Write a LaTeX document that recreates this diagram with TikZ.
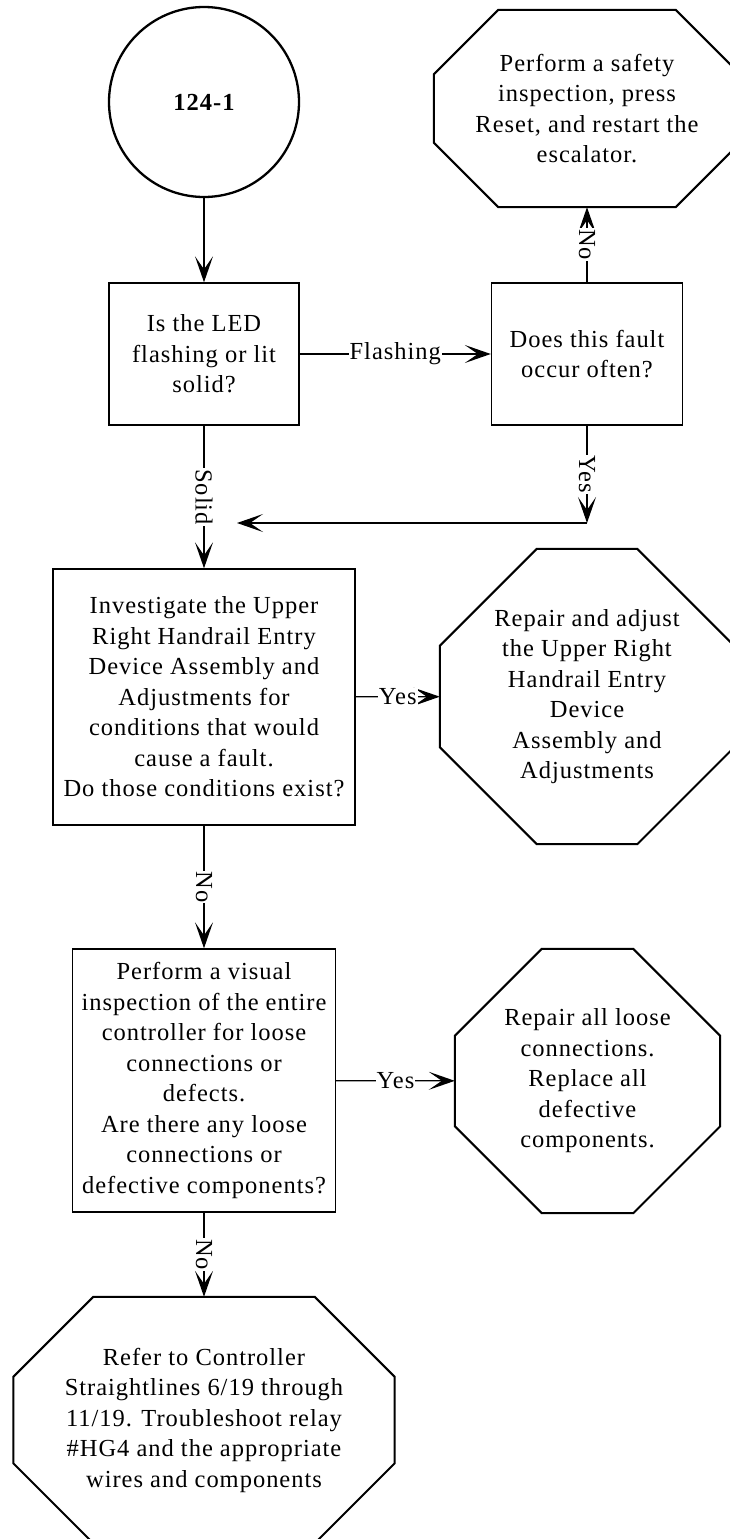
\documentclass[tikz,border=0pt]{standalone}
\usepackage{fontspec}
\setmainfont[LetterSpace=4]{Liberation Serif}
\usepackage{tikz}
\usetikzlibrary{arrows.meta}

\newcommand{\octagon}[2]{%
	\draw[octline] ([xshift=#2]#1.north west) -- ([xshift=-#2]#1.north east)
		-- ([yshift=-#2]#1.north east) -- ([yshift=#2]#1.south east)
		-- ([xshift=-#2]#1.south east) -- ([xshift=#2]#1.south west)
		-- ([yshift=#2]#1.south west) -- ([yshift=-#2]#1.north west) -- cycle;}

\begin{document}
\begin{tikzpicture}[x=1pt, y=-1pt,
		font=\fontsize{24.5}{30.5}\selectfont,
		box/.style={draw, line width=1.4pt, align=center, inner sep=0pt},
		octbox/.style={align=center, inner sep=0pt},
		octline/.style={line width=2pt, line join=miter},
		arr/.style={line width=1.3pt, -{Stealth[length=26pt, width=18pt, inset=13pt]}},
		lbl/.style={fill=white, inner sep=1pt, midway},
		vlbl/.style={lbl, rotate=-90}]
	\useasboundingbox (0,0) rectangle (730,1539);

	\node[circle, draw, line width=2.3pt, minimum size=190pt, font=\fontsize{24.5}{30.5}\selectfont\bfseries] (start) at (204,102) {124-1};

	\node[box, minimum width=190pt, minimum height=142pt] (led) at (204,354) {Is the LED\\flashing or lit\\solid?};
	\node[box, minimum width=191pt, minimum height=142pt] (often) at (587,354) {Does this fault\\occur often?};
	\node[octbox, minimum width=306pt, minimum height=197pt] (safety) at (587,108.5) {Perform a safety\\inspection, press\\Reset, and restart the\\escalator.};
	\octagon{safety}{64.5pt}

	\node[box, minimum width=302pt, minimum height=256pt] (handrail) at (204,697) {Investigate the Upper\\Right Handrail Entry\\Device Assembly and\\Adjustments for\\conditions that would\\cause a fault.\\Do those conditions exist?};
	\node[octbox, minimum width=294pt, minimum height=295pt] (adjust) at (587,696.5) {Repair and adjust\\the Upper Right\\Handrail Entry\\Device\\Assembly and\\Adjustments};
	\octagon{adjust}{97pt}

	\node[box, minimum width=263pt, minimum height=263pt] (visual) at (204,1080.5) {Perform a visual\\inspection of the entire\\controller for loose\\connections or\\defects.\\Are there any loose\\connections or\\defective components?};
	\node[octbox, minimum width=265pt, minimum height=264pt] (loose) at (587.5,1081) {Repair all loose\\connections.\\Replace all\\defective\\components.};
	\octagon{loose}{87pt}

	\node[octbox, minimum width=381pt, minimum height=246pt] (refer) at (204,1420) {Refer to Controller\\Straightlines 6/19 through\\11/19. Troubleshoot relay\\\#HG4 and the appropriate\\wires and components};
	\octagon{refer}{80pt}

	\coordinate (yesend) at (587,523);
	\coordinate (joinend) at (237,523);

	\draw[arr] (start) -- (led);
	\draw[arr] (led) -- node[lbl]{Flashing} (often);
	\draw[arr] (often) -- node[vlbl]{No} (safety);
	\draw[arr] (often) -- node[vlbl]{Yes} (yesend);
	\draw[arr] (yesend) -- (joinend);
	\draw[arr] (led) -- node[vlbl]{Solid} (handrail);
	\draw[arr] (handrail) -- node[lbl]{Yes} (adjust);
	\draw[arr] (handrail) -- node[vlbl]{No} (visual);
	\draw[arr] (visual) -- node[lbl]{Yes} (loose);
	\draw[arr] (visual) -- node[vlbl]{No} (refer);
\end{tikzpicture}
\end{document}
